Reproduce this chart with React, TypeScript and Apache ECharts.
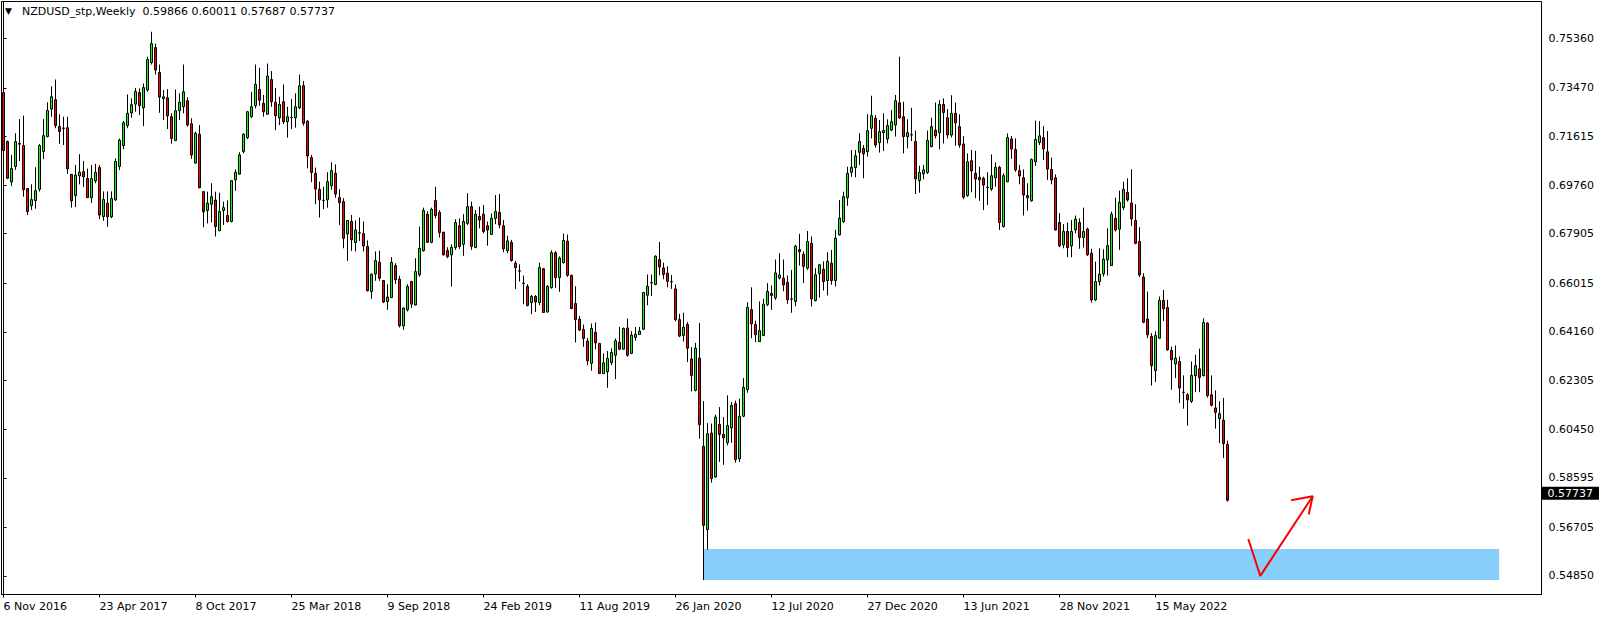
import React, { useEffect, useRef } from "react";
import * as echarts from "echarts";

const dateLabels = [
  "6 Nov 2016", "23 Apr 2017", "8 Oct 2017", "25 Mar 2018", "9 Sep 2018",
  "24 Feb 2019", "11 Aug 2019", "26 Jan 2020", "12 Jul 2020", "27 Dec 2020",
  "13 Jun 2021", "28 Nov 2021", "15 May 2022",
];
const weeksPerLabel = 24;
const slotCount = 385;

const opens = [
  0.7329, 0.7142, 0.6988, 0.7047, 0.7135, 0.7127, 0.6963, 0.6898, 0.6917, 0.6960,
  0.7104, 0.7161, 0.7266, 0.7302, 0.7200, 0.7194, 0.7195, 0.7017, 0.6936, 0.7011,
  0.7027, 0.7001, 0.6928, 0.6992, 0.7043, 0.6856, 0.6907, 0.6855, 0.6920, 0.7047,
  0.7127, 0.7203, 0.7252, 0.7285, 0.7329, 0.7271, 0.7339, 0.7443, 0.7501, 0.7406,
  0.7306, 0.7309, 0.7237, 0.7146, 0.7260, 0.7275, 0.7298, 0.7210, 0.7060, 0.7170,
  0.6951, 0.6879, 0.6903, 0.6919, 0.6802, 0.6879, 0.6860, 0.6837, 0.6996, 0.7018,
  0.7104, 0.7157, 0.7237, 0.7279, 0.7341, 0.7288, 0.7246, 0.7379, 0.7292, 0.7233,
  0.7294, 0.7218, 0.7235, 0.7233, 0.7271, 0.7355, 0.7220, 0.7081, 0.7021, 0.6960,
  0.6918, 0.6920, 0.6974, 0.7021, 0.6928, 0.6913, 0.6790, 0.6837, 0.6757, 0.6794,
  0.6791, 0.6742, 0.6570, 0.6637, 0.6682, 0.6612, 0.6532, 0.6547, 0.6669, 0.6617,
  0.6439, 0.6500, 0.6608, 0.6519, 0.6634, 0.6726, 0.6865, 0.6758, 0.6917, 0.6872,
  0.6796, 0.6726, 0.6710, 0.6738, 0.6821, 0.6750, 0.6830, 0.6894, 0.6738, 0.6856,
  0.6865, 0.6821, 0.6788, 0.6849, 0.6872, 0.6821, 0.6726, 0.6757, 0.6678, 0.6649,
  0.6602, 0.6589, 0.6528, 0.6552, 0.6528, 0.6657, 0.6492, 0.6585, 0.6718, 0.6623,
  0.6680, 0.6762, 0.6632, 0.6524, 0.6464, 0.6425, 0.6381, 0.6296, 0.6414, 0.6372,
  0.6257, 0.6264, 0.6299, 0.6327, 0.6376, 0.6350, 0.6431, 0.6334, 0.6395, 0.6406,
  0.6426, 0.6556, 0.6603, 0.6597, 0.6692, 0.6660, 0.6640, 0.6608, 0.6580, 0.6463,
  0.6402, 0.6444, 0.6313, 0.6193, 0.6316, 0.5979, 0.5662, 0.6030, 0.5862, 0.6063,
  0.6025, 0.5993, 0.6050, 0.6142, 0.5932, 0.6094, 0.6196, 0.6501, 0.6444, 0.6379,
  0.6402, 0.6520, 0.6563, 0.6546, 0.6622, 0.6621, 0.6605, 0.6542, 0.6532, 0.6730,
  0.6712, 0.6659, 0.6754, 0.6536, 0.6638, 0.6655, 0.6612, 0.6678, 0.6612, 0.6786,
  0.6837, 0.6928, 0.7025, 0.7043, 0.7101, 0.7116, 0.7104, 0.7193, 0.7231, 0.7138,
  0.7176, 0.7152, 0.7186, 0.7205, 0.7290, 0.7237, 0.7161, 0.7168, 0.7142, 0.6993,
  0.7019, 0.7024, 0.7123, 0.7186, 0.7176, 0.7284, 0.7233, 0.7167, 0.7250, 0.7199,
  0.7133, 0.6936, 0.7069, 0.7021, 0.7006, 0.7002, 0.6968, 0.6961, 0.7004, 0.7044,
  0.6818, 0.6989, 0.7152, 0.7112, 0.7031, 0.7004, 0.6936, 0.6916, 0.7065, 0.7138,
  0.7157, 0.7103, 0.7036, 0.7004, 0.6833, 0.6748, 0.6799, 0.6744, 0.6805, 0.6833,
  0.6776, 0.6808, 0.6716, 0.6538, 0.6608, 0.6637, 0.6691, 0.6669, 0.6849, 0.6808,
  0.6890, 0.6948, 0.6907, 0.6841, 0.6761, 0.6625, 0.6465, 0.6399, 0.6268, 0.6392,
  0.6536, 0.6509, 0.6345, 0.6294, 0.6303, 0.6186, 0.6176, 0.6151, 0.6249, 0.6275,
  0.6249, 0.6449, 0.6176, 0.6126, 0.6085, 0.6079, 0.59866,
];
const closes = [
  0.7108, 0.7002, 0.7039, 0.7142, 0.7132, 0.6958, 0.6875, 0.6921, 0.6955, 0.7127,
  0.7165, 0.7261, 0.7313, 0.7203, 0.7180, 0.7192, 0.7038, 0.6916, 0.7014, 0.7025,
  0.7007, 0.6928, 0.7001, 0.7024, 0.6862, 0.6921, 0.6855, 0.6925, 0.7066, 0.7147,
  0.7214, 0.7250, 0.7283, 0.7333, 0.7279, 0.7348, 0.7455, 0.7516, 0.7415, 0.7312,
  0.7313, 0.7240, 0.7154, 0.7260, 0.7292, 0.7332, 0.7205, 0.7091, 0.7174, 0.6966,
  0.6874, 0.6907, 0.6932, 0.6818, 0.6875, 0.6890, 0.6837, 0.6993, 0.7025, 0.7091,
  0.7170, 0.7256, 0.7275, 0.7360, 0.7300, 0.7256, 0.7392, 0.7294, 0.7241, 0.7284,
  0.7218, 0.7237, 0.7234, 0.7275, 0.7355, 0.7212, 0.7087, 0.7024, 0.6961, 0.6920,
  0.6917, 0.6989, 0.7031, 0.6942, 0.6909, 0.6773, 0.6841, 0.6767, 0.6805, 0.6793,
  0.6744, 0.6573, 0.6636, 0.6688, 0.6621, 0.6530, 0.6549, 0.6681, 0.6615, 0.6439,
  0.6507, 0.6589, 0.6522, 0.6646, 0.6735, 0.6879, 0.6758, 0.6884, 0.6860, 0.6795,
  0.6710, 0.6703, 0.6738, 0.6833, 0.6742, 0.6837, 0.6894, 0.6742, 0.6865, 0.6843,
  0.6799, 0.6805, 0.6849, 0.6875, 0.6824, 0.6733, 0.6763, 0.6688, 0.6661, 0.6648,
  0.6601, 0.6517, 0.6551, 0.6530, 0.6661, 0.6490, 0.6590, 0.6718, 0.6623, 0.6698,
  0.6765, 0.6632, 0.6505, 0.6463, 0.6423, 0.6391, 0.6306, 0.6429, 0.6374, 0.6257,
  0.6298, 0.6315, 0.6337, 0.6382, 0.6350, 0.6429, 0.6327, 0.6404, 0.6407, 0.6419,
  0.6566, 0.6590, 0.6604, 0.6705, 0.6664, 0.6635, 0.6609, 0.6607, 0.6463, 0.6400,
  0.6434, 0.6354, 0.6250, 0.6354, 0.6062, 0.5678, 0.6027, 0.5856, 0.6091, 0.6025,
  0.6012, 0.6059, 0.6135, 0.5929, 0.6094, 0.6204, 0.6509, 0.6447, 0.6405, 0.6421,
  0.6522, 0.6570, 0.6555, 0.6641, 0.6633, 0.6595, 0.6538, 0.6541, 0.6743, 0.6722,
  0.6666, 0.6761, 0.6542, 0.6634, 0.6672, 0.6608, 0.6685, 0.6612, 0.6773, 0.6850,
  0.6932, 0.7021, 0.7044, 0.7088, 0.7142, 0.7095, 0.7184, 0.7241, 0.7129, 0.7180,
  0.7184, 0.7203, 0.7218, 0.7298, 0.7233, 0.7161, 0.7176, 0.7167, 0.7000, 0.7024,
  0.7034, 0.7146, 0.7199, 0.7164, 0.7284, 0.7253, 0.7167, 0.7250, 0.7214, 0.7129,
  0.6930, 0.7065, 0.7030, 0.6999, 0.6996, 0.6976, 0.6967, 0.7012, 0.7044, 0.6833,
  0.7012, 0.7157, 0.7114, 0.7034, 0.7011, 0.6938, 0.6928, 0.7074, 0.7150, 0.7164,
  0.7114, 0.7037, 0.6996, 0.6805, 0.6744, 0.6799, 0.6738, 0.6799, 0.6846, 0.6776,
  0.6799, 0.6710, 0.6538, 0.6608, 0.6636, 0.6693, 0.6745, 0.6865, 0.6805, 0.6910,
  0.6960, 0.6919, 0.6847, 0.6754, 0.6633, 0.6453, 0.6405, 0.6287, 0.6402, 0.6536,
  0.6504, 0.6348, 0.6310, 0.6316, 0.6202, 0.6185, 0.6157, 0.6250, 0.6287, 0.6242,
  0.6452, 0.6173, 0.6136, 0.6109, 0.6104, 0.5990, 0.57737,
];
const lows = [
  0.7104, 0.6999, 0.6973, 0.7034, 0.7068, 0.6932, 0.6862, 0.6881, 0.6886, 0.6951,
  0.7075, 0.7158, 0.7237, 0.7193, 0.7134, 0.7129, 0.7019, 0.6890, 0.6892, 0.6979,
  0.6969, 0.6927, 0.6908, 0.6983, 0.6846, 0.6840, 0.6817, 0.6850, 0.6916, 0.7034,
  0.7113, 0.7193, 0.7233, 0.7256, 0.7243, 0.7201, 0.7332, 0.7436, 0.7398, 0.7252,
  0.7224, 0.7190, 0.7134, 0.7144, 0.7224, 0.7250, 0.7199, 0.7076, 0.7058, 0.6964,
  0.6815, 0.6830, 0.6834, 0.6780, 0.6800, 0.6824, 0.6834, 0.6834, 0.6954, 0.7015,
  0.7097, 0.7152, 0.7233, 0.7269, 0.7279, 0.7237, 0.7246, 0.7275, 0.7186, 0.7205,
  0.7209, 0.7157, 0.7190, 0.7195, 0.7266, 0.7203, 0.7040, 0.6987, 0.6903, 0.6852,
  0.6884, 0.6890, 0.6958, 0.6928, 0.6824, 0.6735, 0.6687, 0.6725, 0.6723, 0.6763,
  0.6723, 0.6570, 0.6542, 0.6611, 0.6611, 0.6526, 0.6500, 0.6545, 0.6599, 0.6433,
  0.6424, 0.6494, 0.6507, 0.6517, 0.6627, 0.6722, 0.6756, 0.6754, 0.6849, 0.6776,
  0.6707, 0.6697, 0.6589, 0.6729, 0.6733, 0.6706, 0.6824, 0.6729, 0.6735, 0.6811,
  0.6792, 0.6745, 0.6786, 0.6827, 0.6811, 0.6720, 0.6716, 0.6684, 0.6580, 0.6608,
  0.6522, 0.6513, 0.6484, 0.6492, 0.6518, 0.6489, 0.6490, 0.6581, 0.6584, 0.6569,
  0.6677, 0.6626, 0.6503, 0.6376, 0.6419, 0.6359, 0.6289, 0.6268, 0.6349, 0.6255,
  0.6255, 0.6203, 0.6289, 0.6236, 0.6346, 0.6349, 0.6321, 0.6331, 0.6382, 0.6404,
  0.6423, 0.6518, 0.6553, 0.6594, 0.6632, 0.6617, 0.6586, 0.6580, 0.6456, 0.6396,
  0.6379, 0.6301, 0.6189, 0.6189, 0.6009, 0.5469, 0.5585, 0.5841, 0.5860, 0.5920,
  0.5909, 0.5983, 0.5993, 0.5917, 0.5920, 0.6091, 0.6184, 0.6392, 0.6377, 0.6379,
  0.6400, 0.6514, 0.6500, 0.6538, 0.6616, 0.6571, 0.6523, 0.6489, 0.6514, 0.6669,
  0.6602, 0.6653, 0.6513, 0.6532, 0.6547, 0.6574, 0.6555, 0.6596, 0.6589, 0.6784,
  0.6831, 0.6897, 0.7008, 0.7006, 0.7053, 0.7002, 0.7085, 0.7154, 0.7119, 0.7100,
  0.7106, 0.7135, 0.7182, 0.7161, 0.7228, 0.7097, 0.7116, 0.7144, 0.6942, 0.6947,
  0.6998, 0.7019, 0.7120, 0.7154, 0.7112, 0.7135, 0.7154, 0.7158, 0.7126, 0.7119,
  0.6922, 0.6932, 0.6949, 0.6926, 0.6916, 0.6881, 0.6900, 0.6954, 0.6970, 0.6805,
  0.6814, 0.6987, 0.7076, 0.7027, 0.6979, 0.6860, 0.6879, 0.6913, 0.7049, 0.7129,
  0.7072, 0.6996, 0.6979, 0.6803, 0.6739, 0.6735, 0.6701, 0.6701, 0.6792, 0.6733,
  0.6738, 0.6706, 0.6528, 0.6534, 0.6593, 0.6627, 0.6631, 0.6669, 0.6799, 0.6729,
  0.6881, 0.6913, 0.6820, 0.6750, 0.6625, 0.6449, 0.6392, 0.6211, 0.6225, 0.6390,
  0.6458, 0.6344, 0.6195, 0.6240, 0.6145, 0.6123, 0.6058, 0.6145, 0.6186, 0.6186,
  0.6246, 0.6166, 0.6132, 0.6047, 0.5992, 0.5935, 0.57687,
];
const highs = [
  0.7409, 0.7146, 0.7091, 0.7174, 0.7228, 0.7241, 0.6965, 0.6979, 0.7044, 0.7133,
  0.7228, 0.7292, 0.7353, 0.7379, 0.7246, 0.7237, 0.7237, 0.7019, 0.7053, 0.7094,
  0.7068, 0.7039, 0.7053, 0.7057, 0.7053, 0.6952, 0.6952, 0.6952, 0.7078, 0.7153,
  0.7221, 0.7322, 0.7307, 0.7347, 0.7345, 0.7364, 0.7466, 0.7561, 0.7516, 0.7436,
  0.7339, 0.7342, 0.7250, 0.7341, 0.7326, 0.7436, 0.7311, 0.7231, 0.7180, 0.7205,
  0.6954, 0.6951, 0.6983, 0.6951, 0.6947, 0.6913, 0.6918, 0.6995, 0.7036, 0.7101,
  0.7174, 0.7259, 0.7332, 0.7436, 0.7424, 0.7320, 0.7440, 0.7411, 0.7347, 0.7313,
  0.7360, 0.7275, 0.7304, 0.7326, 0.7398, 0.7373, 0.7224, 0.7091, 0.7043, 0.6989,
  0.6970, 0.7025, 0.7063, 0.7055, 0.6960, 0.6926, 0.6843, 0.6862, 0.6841, 0.6852,
  0.6837, 0.6765, 0.6638, 0.6723, 0.6726, 0.6614, 0.6598, 0.6701, 0.6678, 0.6630,
  0.6509, 0.6598, 0.6611, 0.6697, 0.6818, 0.6890, 0.6877, 0.6890, 0.6970, 0.6881,
  0.6798, 0.6739, 0.6750, 0.6846, 0.6849, 0.6865, 0.6945, 0.6913, 0.6881, 0.6894,
  0.6900, 0.6837, 0.6868, 0.6938, 0.6942, 0.6843, 0.6783, 0.6767, 0.6687, 0.6674,
  0.6631, 0.6598, 0.6557, 0.6556, 0.6680, 0.6660, 0.6594, 0.6727, 0.6724, 0.6704,
  0.6791, 0.6787, 0.6634, 0.6590, 0.6477, 0.6444, 0.6393, 0.6448, 0.6452, 0.6374,
  0.6334, 0.6343, 0.6353, 0.6391, 0.6435, 0.6433, 0.6467, 0.6419, 0.6435, 0.6435,
  0.6569, 0.6635, 0.6635, 0.6708, 0.6759, 0.6680, 0.6666, 0.6633, 0.6597, 0.6485,
  0.6489, 0.6453, 0.6358, 0.6374, 0.6450, 0.6152, 0.6068, 0.6066, 0.6100, 0.6129,
  0.6091, 0.6174, 0.6148, 0.6154, 0.6161, 0.6240, 0.6529, 0.6586, 0.6459, 0.6532,
  0.6542, 0.6602, 0.6593, 0.6692, 0.6716, 0.6692, 0.6631, 0.6652, 0.6748, 0.6790,
  0.6723, 0.6801, 0.6780, 0.6659, 0.6674, 0.6685, 0.6720, 0.6729, 0.6805, 0.6919,
  0.6951, 0.7046, 0.7110, 0.7110, 0.7174, 0.7129, 0.7246, 0.7317, 0.7243, 0.7224,
  0.7250, 0.7227, 0.7262, 0.7320, 0.7466, 0.7294, 0.7227, 0.7271, 0.7184, 0.7050,
  0.7053, 0.7184, 0.7233, 0.7291, 0.7300, 0.7307, 0.7266, 0.7319, 0.7291, 0.7246,
  0.7163, 0.7097, 0.7110, 0.7107, 0.7046, 0.7008, 0.7025, 0.7093, 0.7063, 0.7050,
  0.7021, 0.7173, 0.7163, 0.7154, 0.7053, 0.7036, 0.6983, 0.7078, 0.7222, 0.7220,
  0.7201, 0.7182, 0.7081, 0.7017, 0.6869, 0.6827, 0.6833, 0.6843, 0.6860, 0.6849,
  0.6890, 0.6814, 0.6733, 0.6684, 0.6735, 0.6731, 0.6811, 0.6875, 0.6928, 0.6955,
  0.6989, 0.7002, 0.7036, 0.6903, 0.6815, 0.6640, 0.6570, 0.6411, 0.6418, 0.6551,
  0.6576, 0.6538, 0.6360, 0.6364, 0.6322, 0.6250, 0.6183, 0.6303, 0.6329, 0.6352,
  0.6468, 0.6453, 0.6250, 0.6193, 0.6151, 0.6164, 0.60011,
];

const priceLabels = [
  0.7536, 0.7347, 0.71615, 0.6976, 0.67905, 0.66015,
  0.6416, 0.62305, 0.6045, 0.58595, 0.56705, 0.5485,
];
const priceMin = 0.54141;
const priceMax = 0.76765;
const lastPrice = 0.57737;
const headerText = "NZDUSD_stp,Weekly  0.59866 0.60011 0.57687 0.57737";

const zoneStart = 175;
const zoneEnd = 373.9;
const zoneLow = 0.5469;
const zoneHigh = 0.5588;

const arrowLine = [
  [311.2, 0.5626],
  [314.2, 0.5485],
  [327.3, 0.5789],
];
const arrowHead = [
  [321.9, 0.5774],
  [327.3, 0.5789],
  [326.3, 0.5719],
];

const FONT = "DejaVu Sans";

export default function App() {
  const ref = useRef<HTMLDivElement>(null);

  useEffect(() => {
    document.body.style.margin = "0";
    if (!ref.current) return;
    const chart = echarts.init(ref.current, undefined, { renderer: "svg" });

    const categories = Array.from({ length: slotCount }, (_, i) => String(i));
    const candles = opens.map((o, i) => [o, closes[i], lows[i], highs[i]]);
    const isLabelSlot = (idx: number) =>
      idx % weeksPerLabel === 0 && idx / weeksPerLabel < dateLabels.length;

    chart.setOption({
      animation: false,
      backgroundColor: "#ffffff",
      textStyle: { fontFamily: FONT },
      grid: {
        left: 1.5,
        right: 62.5,
        top: 1.5,
        bottom: 24.5,
        show: true,
        borderColor: "#000000",
        borderWidth: 1,
        backgroundColor: "transparent",
      },
      graphic: [
        {
          type: "text",
          left: 5,
          top: 6,
          style: { text: "▼", fontSize: 9, fill: "#000", fontFamily: FONT },
          z: 100,
        },
        {
          type: "text",
          left: 22,
          top: 6,
          style: { text: headerText, fontSize: 11, fill: "#000", fontFamily: FONT },
          z: 100,
        },
      ],
      xAxis: [
        {
          type: "category",
          data: categories,
          boundaryGap: true,
          axisLine: { show: true, lineStyle: { color: "#000", width: 1 } },
          axisTick: {
            show: true,
            alignWithLabel: true,
            interval: (idx: number) => isLabelSlot(idx),
            length: 3,
            lineStyle: { color: "#000" },
          },
          axisLabel: {
            show: true,
            interval: (idx: number) => isLabelSlot(idx),
            formatter: (_v: string, idx: number) => dateLabels[idx / weeksPerLabel] ?? "",
            align: "left",
            color: "#000",
            fontSize: 11,
            fontFamily: FONT,
            margin: 6,
            hideOverlap: false,
          },
          splitLine: { show: false },
        },
        {
          type: "value",
          min: -0.5,
          max: slotCount - 0.5,
          show: false,
          splitLine: { show: false },
        },
      ],
      yAxis: {
        type: "value",
        position: "right",
        min: priceMin,
        max: priceMax,
        scale: true,
        axisLine: { show: true, lineStyle: { color: "#000", width: 1 } },
        axisTick: {
          show: true,
          customValues: priceLabels,
          length: 3,
          lineStyle: { color: "#000" },
        },
        axisLabel: {
          show: true,
          customValues: priceLabels,
          formatter: (v: number) => v.toFixed(5),
          color: "#000",
          fontSize: 11,
          fontFamily: FONT,
          margin: 7,
        },
        splitLine: { show: false },
      },
      series: [
        {
          type: "line",
          xAxisIndex: 1,
          data: [[zoneStart, zoneLow]],
          symbol: "none",
          z: 1,
          silent: true,
          markArea: {
            silent: true,
            itemStyle: { color: "#87cefa", opacity: 1 },
            data: [[{ xAxis: zoneStart, yAxis: zoneHigh }, { xAxis: zoneEnd, yAxis: zoneLow }]],
          },
        },
        {
          type: "candlestick",
          xAxisIndex: 0,
          data: candles,
          barWidth: 2,
          z: 3,
          itemStyle: {
            color: "#00ff00",
            color0: "#ff0000",
            borderColor: "#000000",
            borderColor0: "#000000",
            borderWidth: 1,
          },
          markLine: {
            silent: true,
            symbol: "none",
            lineStyle: { color: "rgba(0,0,0,0)", width: 0 },
            label: {
              show: true,
              position: "end",
              distance: 0,
              formatter: () => lastPrice.toFixed(5),
              backgroundColor: "#000000",
              color: "#ffffff",
              fontSize: 11,
              fontFamily: FONT,
              padding: [1, 6, 1, 6],
              opacity: 1,
            },
            data: [{ yAxis: lastPrice }],
          },
        },
        {
          type: "line",
          xAxisIndex: 1,
          data: arrowLine,
          symbol: "none",
          z: 5,
          lineStyle: { color: "#ff0000", width: 2 },
        },
        {
          type: "line",
          xAxisIndex: 1,
          data: arrowHead,
          symbol: "none",
          z: 5,
          lineStyle: { color: "#ff0000", width: 2 },
        },
      ],
    });

    return () => chart.dispose();
  }, []);

  return <div ref={ref} style={{ width: 1604, height: 619 }} />;
}
